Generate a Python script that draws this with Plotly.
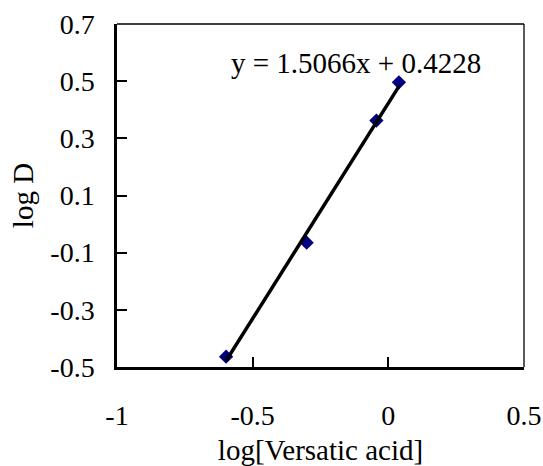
import numpy as np
import plotly.graph_objects as go

# Data
log_acid = [-0.598, -0.301, -0.044, 0.039]
log_D = [-0.464, -0.065, 0.362, 0.496]
slope = 1.5066
intercept = 0.4228
equation = "y = 1.5066x + 0.4228"
x_ticks = [-1, -0.5, 0, 0.5]
y_ticks = [-0.5, -0.3, -0.1, 0.1, 0.3, 0.5, 0.7]

FONT = "Liberation Serif, Times New Roman, serif"
FS = 28
FS_T = 29

fit_x = np.array([min(log_acid), max(log_acid)])
fit_y = slope * fit_x + intercept

fig = go.Figure()
fig.add_trace(go.Scatter(
    x=log_acid, y=log_D, mode="markers",
    marker=dict(symbol="diamond", size=11, color="#000080",
                line=dict(color="#000080", width=0)),
    showlegend=False, hoverinfo="skip"))
fig.add_trace(go.Scatter(
    x=fit_x, y=fit_y, mode="lines",
    line=dict(color="black", width=3.5),
    showlegend=False, hoverinfo="skip"))

fig.add_annotation(x=-0.12, y=0.562, xref="x", yref="y", text=equation,
                   showarrow=False, font=dict(family=FONT, size=FS_T, color="black"))

# thin top and right borders
fig.add_shape(type="line", xref="paper", yref="paper", x0=0, x1=1, y0=1, y1=1,
              line=dict(color="black", width=1.3))
fig.add_shape(type="line", xref="paper", yref="paper", x0=1, x1=1, y0=0, y1=1,
              line=dict(color="black", width=1.3))

fig.update_layout(
    width=543, height=466,
    margin=dict(l=117, r=19, t=24, b=99, autoexpand=False),
    paper_bgcolor="white", plot_bgcolor="white",
    font=dict(family=FONT, size=FS, color="black"),
    xaxis=dict(range=[-1, 0.5], tickvals=x_ticks, ticktext=["-1", "-0.5", "0", "0.5"],
               automargin=False,
               showgrid=False, zeroline=False, showline=True, linecolor="black",
               linewidth=2.5, ticks="inside", ticklen=10, tickwidth=1.5,
               tickcolor="black", ticklabelstandoff=22,
               title=dict(text="log[Versatic acid]", font=dict(family=FONT, size=FS_T),
                          standoff=11)),
    yaxis=dict(range=[-0.5, 0.7], tickvals=y_ticks,
               ticktext=[f"{v:.1f}" for v in y_ticks],
               automargin=False,
               showgrid=False, zeroline=False, showline=True, linecolor="black",
               linewidth=2.5, ticks="inside", ticklen=10, tickwidth=1.5,
               tickcolor="black", ticklabelstandoff=14,
               title=dict(text="log D", font=dict(family=FONT, size=FS_T), standoff=9)),
)

fig.write_html("out.html")
